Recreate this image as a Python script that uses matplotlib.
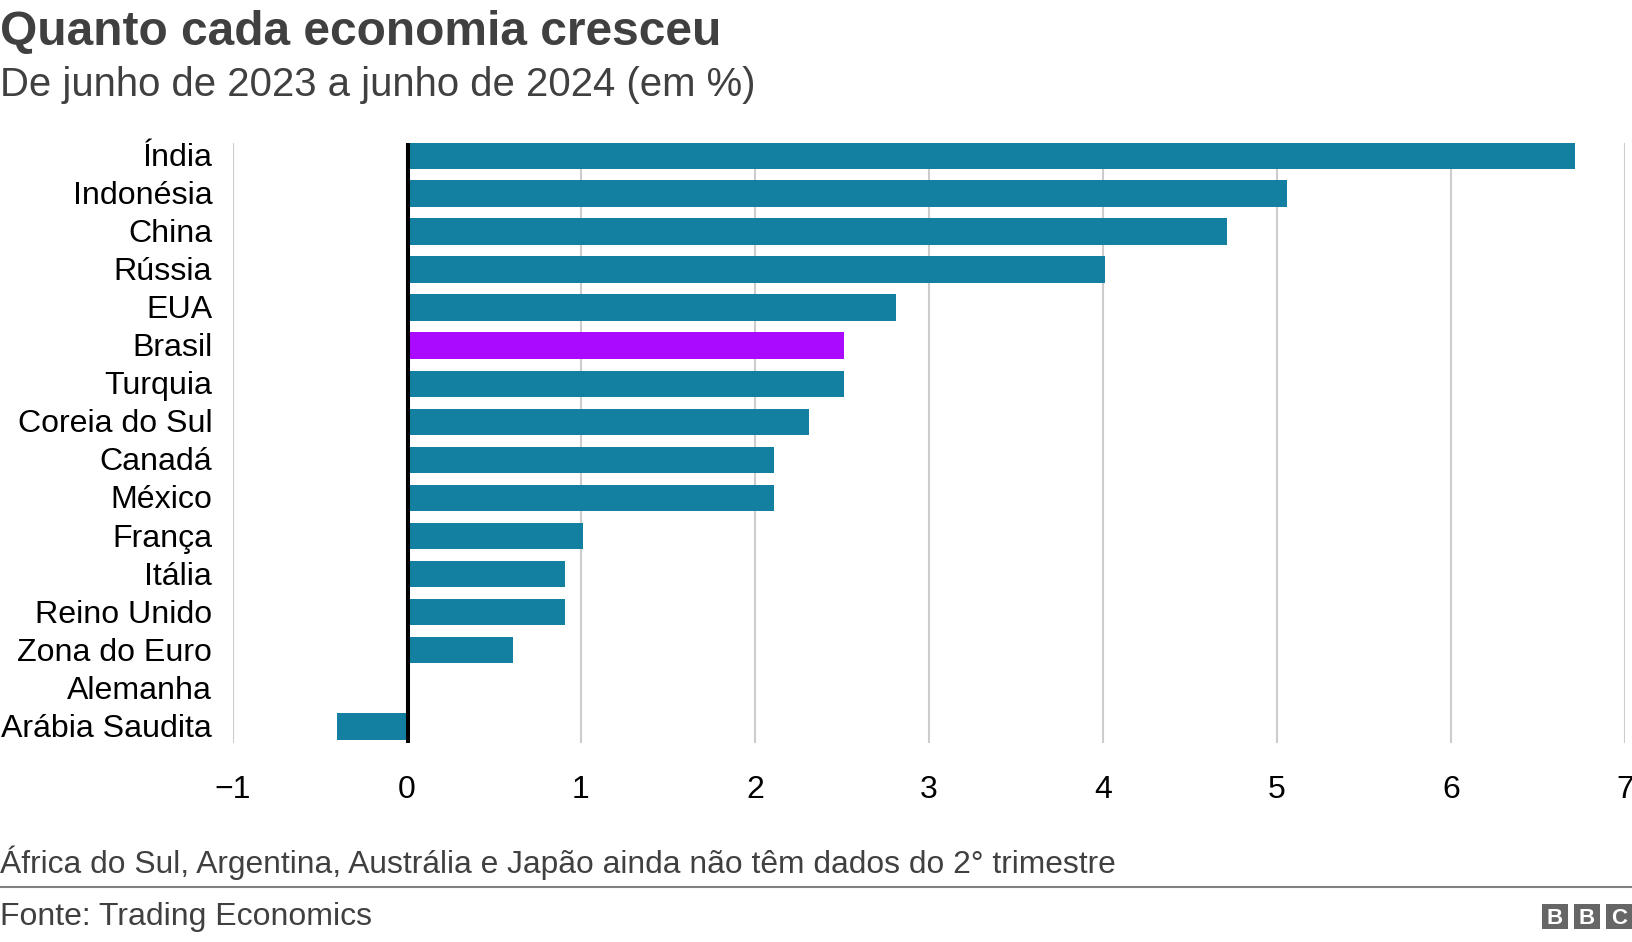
import matplotlib
matplotlib.use("Agg")
import matplotlib.pyplot as plt
from matplotlib.patches import Rectangle
from matplotlib.transforms import ScaledTranslation

plt.rcParams["font.family"] = ["Liberation Sans", "DejaVu Sans"]

W, H = 1632, 942

countries = ["Índia", "Indonésia", "China", "Rússia", "EUA", "Brasil", "Turquia",
             "Coreia do Sul", "Canadá", "México", "França", "Itália", "Reino Unido",
             "Zona do Euro", "Alemanha", "Arábia Saudita"]
growth = [6.71, 5.06, 4.71, 4.01, 2.81, 2.51, 2.51, 2.31, 2.11, 2.11, 1.01, 0.91, 0.91, 0.61, 0.0, -0.4]
x_ticks = [-1, 0, 1, 2, 3, 4, 5, 6, 7]
x_labels = ["−1", "0", "1", "2", "3", "4", "5", "6", "7"]

TEAL = "#1380A1"
PURPLE = "#AA0AFF"
GREY = "#404040"

fig = plt.figure(figsize=(W / 100, H / 100), dpi=100, facecolor="white")

# axes box in pixels, measured on the reference
left, right, top, bottom = 233, 1625, 143, 743
ax = fig.add_axes([left / W, 1 - bottom / H, (right - left) / W, (bottom - top) / H])

colors = [PURPLE if c == "Brasil" else TEAL for c in countries]
ax.barh(range(len(countries)), growth, height=0.70, color=colors, zorder=2)

ax.set_xlim(-1, 7)
ax.set_ylim(15.44, -0.33)
ax.set_xticks(x_ticks, x_labels, fontsize=23, color="black")
ax.set_yticks(range(len(countries)), countries, fontsize=23.1, color="black")
ax.tick_params(axis="both", length=0)
ax.tick_params(axis="x", pad=23)
ax.tick_params(axis="y", pad=15)
ax.grid(axis="x", color="#cccccc", lw=1.5, zorder=1)
ax.axvline(0.005, color="black", lw=2.9, zorder=3)
for s in ax.spines.values():
    s.set_visible(False)

# tick labels sit a little higher than matplotlib centres them
nudge = ScaledTranslation(0, 1 / 100, fig.dpi_scale_trans)
for lab in ax.get_yticklabels():
    lab.set_transform(lab.get_transform() + nudge)


def px_text(x, y, s, **kw):
    fig.text(x / W, 1 - y / H, s, va="baseline", ha="left", **kw)


px_text(0, 45, "Quanto cada economia cresceu", fontsize=34.5, fontweight="bold", color=GREY)
px_text(0, 96, "De junho de 2023 a junho de 2024 (em %)", fontsize=28.9, color=GREY)
px_text(0, 873, "África do Sul, Argentina, Austrália e Japão ainda não têm dados do 2° trimestre",
        fontsize=22.85, color=GREY)
px_text(0, 925, "Fonte: Trading Economics", fontsize=23, color=GREY)

# footer rule and BBC blocks
fig.add_artist(plt.Line2D([0, 1], [1 - 887 / H, 1 - 887 / H], color="#808080", lw=1.5))
for x0, letter in zip([1542, 1574, 1606], "BBC"):
    fig.add_artist(Rectangle((x0 / W, 1 - 929 / H), 26 / W, 25 / H, color="#666666", lw=0,
                             transform=fig.transFigure))
    fig.text((x0 + 13) / W, 1 - 916.5 / H, letter, color="white", fontsize=16, fontweight="bold",
             ha="center", va="center_baseline")

fig.savefig("out.png", dpi=100, facecolor="white")
